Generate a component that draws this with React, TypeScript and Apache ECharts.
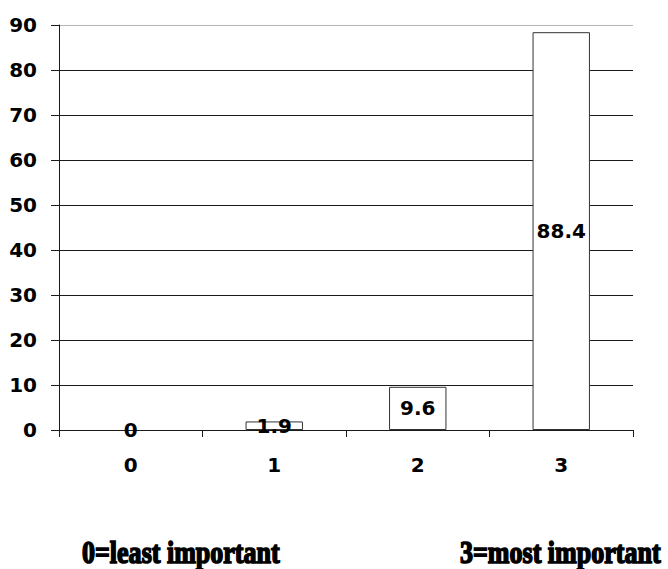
import React, { useEffect, useRef } from "react";
import * as echarts from "echarts";

const categories = ["0", "1", "2", "3"];
const values = [0, 1.9, 9.6, 88.4];
const leftNote = "0=least important";
const rightNote = "3=most important";

const FONT = "'DejaVu Sans', Verdana, sans-serif";
const SERIF = "'Liberation Serif', 'Times New Roman', serif";

export default function App() {
  const ref = useRef<HTMLDivElement>(null);
  useEffect(() => {
    if (!ref.current) return;
    const chart = echarts.init(ref.current, null, { renderer: "svg" });
    const gridColors = Array.from({ length: 10 }, (_, i) => (i === 9 ? "#b4b4b4" : "#1a1a1a"));
    const barData = values.map((v) => ({
      value: v,
      itemStyle: v === 0 ? { borderWidth: 0, color: "transparent" } : undefined,
    }));
    const noteStyle = {
      fontFamily: SERIF,
      fontWeight: "bold",
      fontSize: 31,
      fill: "#000",
      stroke: "#000",
      lineWidth: 1.6,
      verticalAlign: "bottom",
    };
    chart.setOption({
      animation: false,
      backgroundColor: "#ffffff",
      grid: { left: 59, right: 35, top: 25, bottom: 139 },
      xAxis: {
        type: "category",
        data: categories,
        boundaryGap: true,
        axisLine: { lineStyle: { color: "#1a1a1a", width: 1 } },
        axisTick: { show: true, length: 7, lineStyle: { color: "#1a1a1a" } },
        axisLabel: {
          margin: 25,
          color: "#000",
          fontFamily: FONT,
          fontWeight: "bold",
          fontSize: 20,
        },
      },
      yAxis: {
        type: "value",
        min: 0,
        max: 90,
        interval: 10,
        axisLine: { show: true, lineStyle: { color: "#1a1a1a", width: 1 } },
        axisTick: { show: true, length: 8, lineStyle: { color: "#1a1a1a" } },
        splitLine: { show: true, lineStyle: { color: gridColors, width: 1 } },
        axisLabel: {
          margin: 22,
          color: "#000",
          fontFamily: FONT,
          fontWeight: "bold",
          fontSize: 20,
        },
      },
      series: [
        {
          type: "bar",
          data: barData,
          barWidth: "40%",
          itemStyle: { color: "#ffffff", borderColor: "#333333", borderWidth: 1 },
          label: {
            show: true,
            position: "inside",
            color: "#000",
            fontFamily: FONT,
            fontWeight: "bold",
            fontSize: 20,
          },
        },
      ],
      graphic: [
        {
          type: "text",
          x: 82,
          y: 568,
          scaleX: 0.84,
          style: { ...noteStyle, text: leftNote },
        },
        {
          type: "text",
          x: 460,
          y: 568,
          scaleX: 0.84,
          style: { ...noteStyle, text: rightNote },
        },
      ],
    });
    return () => chart.dispose();
  }, []);
  return <div ref={ref} style={{ width: 668, height: 569, position: "absolute", left: 0, top: 0 }} />;
}
